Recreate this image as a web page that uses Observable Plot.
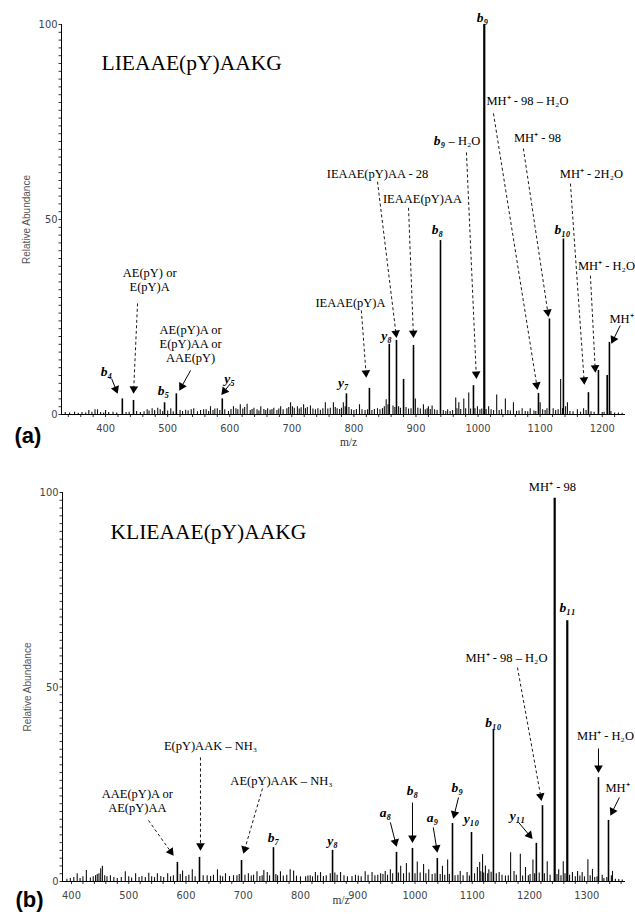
<!DOCTYPE html>
<html><head><meta charset="utf-8">
<script src="https://cdn.jsdelivr.net/npm/d3@7"></script>
<script src="https://cdn.jsdelivr.net/npm/@observablehq/plot@0.6"></script>
<style>
body{margin:0;background:#fff;width:635px;height:914px;overflow:hidden}
#chart svg{display:block;overflow:visible}
</style></head>
<body><div id="chart"></div>
<script>
// ---------- DATA ----------
const titleA = "LIEAAE(pY)AAKG";
const titleB = "KLIEAAE(pY)AAKG";
const panelTagA = "(a)";
const panelTagB = "(b)";
const yLabel = "Relative Abundance";
const xLabel = "m/z";
const yTickLabels = [0, 50, 100];
const xTickLabelsA = [400, 500, 600, 700, 800, 900, 1000, 1100, 1200];
const xTickLabelsB = [400, 500, 600, 700, 800, 900, 1000, 1100, 1200, 1300];

// panel (a) peaks [m/z, relative abundance]
const peaksA = [[427,4],[445,3.6],[495,3],[514,5.3],[588,4],[788,5.3],[825,6.7],[857,18],[868.6,19],[880,9],
  [896,17.7],[939.5,44.6],[992.6,7.4],[1097.3,5.4],[1115,24.5],[1137.5,45],[1177.8,5.6],
  [1193.9,11.3],[1208,10],[1211.6,18.5]];
const basePeakA = [[1010,100]];
const noiseA = [[373,1],[387,1.2],[400,1],[467,1.2],[475,1.5],[484,1.6],[505,1.5],[529,1.1],[542,1.5],[558,1.2],
  [569,2],[580,1.5],[606,2],[617,2.5],[628,2.6],[639,1.6],[650,2],[661,1.5],[671,1.6],[682,2],[698,3],[709,2],
  [719,2.5],[730,2.2],[754,3],[767,3],[783,3],[809,2.5],[838,1.5],[852,3.8],[899,4],[912,2.5],[920,2],[926,2.2],
  [951,1.2],[964,4.2],[969,3],[977,4],[985,5.5],[999,2],[1017,2],[1030,5],[1044,4],[1057,3],[1071,1.5],[1084,1.5],
  [1100,3],[1121,1.5],[1133,9],[1144,3],[1160,1.2],[1170,1.5]];
const grassA = [[335,0.5],[342,0.4],[350,0.6],[356,0.3],[362,0.5],[368,0.4],[378,0.6],[383,1.2],[392,0.5],[397,0.4],
  [405,0.5],[412,0.6],[418,0.4],[433,0.5],[438,0.6],[450,0.8],[456,0.5],[462,0.7],[470,0.9],[479,1],[488,1.2],[492,0.8],
  [500,0.9],[509,0.7],[520,1],[524,0.8],[533,0.9],[538,1.2],[548,0.7],[553,1],[562,1.2],[566,0.8],[573,1],[576,1.4],
  [584,1],[592,1.2],[598,0.8],[602,1.3],[610,1.5],[613,1.2],[621,1.4],[624,1.8],[633,1],[636,1.3],[644,1.2],[647,0.9],
  [655,1.3],[658,1],[665,1.1],[668,1.3],[676,1],[679,1.4],[686,1.2],[692,1.5],[695,1.8],[701,2],[704,1.6],[712,1.4],
  [715,1.7],[722,1.5],[725,1.8],[734,1.4],[738,1.2],[742,1.5],[746,1.1],[750,1.5],[758,1.4],[762,1.6],[770,1.8],
  [773,1.5],[777,1.3],[780,1.6],[786,2],[792,1.8],[796,1.2],[800,1],[804,1.3],[813,1.2],[818,1],[822,1.2],[829,1],
  [833,1.3],[842,1.2],[846,1.5],[849,2],[855,2.5],[863,2.2],[866,1.8],[872,2],[875,1.6],[884,1.8],[888,1.4],[892,1.5],
  [903,1.6],[907,1.4],[915,1.2],[918,1.5],[923,1.3],[930,1.2],[934,1],[944,1],[948,0.8],[955,0.8],[959,1],[966,1.5],
  [972,1.3],[980,1.5],[988,1.4],[995,1.5],[1003,1.2],[1006,1.4],[1013,1.3],[1021,1.2],[1025,1],[1034,1],[1038,1.2],
  [1048,1],[1052,0.9],[1062,0.8],[1066,0.9],[1076,0.8],[1080,0.7],[1090,0.9],[1093,0.8],[1104,1.2],[1108,1],[1111,1.5],
  [1125,1],[1129,1.2],[1136,1.5],[1141,2],[1148,0.8],[1153,0.7],[1165,0.6],[1174,1],[1182,0.7],[1187,0.6],[1200,0.5],
  [1203,0.6],[1214,0.8],[1220,0.4],[1226,0.4],[1232,0.3]];

// panel (a) annotations [text, m/z, abundance]
const ionLabelsA = [["b₉",1007,101.8],["b₈",934.6,47.4],["b₁₀",1136,47.4],["y₈",852.5,20.3],["y₇",783,8.2],
  ["b₄",401.6,11],["b₅",493.4,6.2],["y₅",599.7,9.2],["b₉",937.8,70.3]];
const fragLabelsA = [["MH⁺ - 98 – H₂O",1079.6,80.5],["MH⁺ - 98",1095.6,71],["– H₂O",978,70.3],
  ["IEAAE(pY)AA - 28",838,61.8],["MH⁺ - 2H₂O",1182.6,61.8],["IEAAE(pY)AA",910.5,55.4],["MH⁺ - H₂O",1206.8,38.2],
  ["IEAAE(pY)A",794.5,28.7],["MH⁺",1231,24.6],["AE(pY) or\nE(pY)A",471,34.7],["AE(pY)A or\nE(pY)AA or\nAAE(pY)",537,18.2]];
// arrows [from m/z, from abundance, to m/z, to abundance]
const dashedArrowsA = [[451.5,28.5,445,5.4],[812,26.7,820,9.5],[838,59.7,868.6,19.7],[888,53,896,19.7],
  [981.3,67.2,997.4,9.2],[1024.8,77.2,1095.7,6.4],[1073,68.2,1113.4,25.1],[1148.8,59.2,1171.3,7.7],[1181,35.6,1189,10.8]];
const solidArrowsA = [[537,11.3,519,6.2],[409.7,9.2,419.3,5.4],[601,7.9,586.8,5.1],[1229,22.8,1214.8,18.2]];

// panel (b) peaks
const peaksB = [[585,4.9],[623.6,6.2],[697,5.4],[752.8,8.7],[856,8],[967.7,7.5],[995.6,8.5],[1039,5.9],[1065.5,14.9],
  [1098.7,12.6],[1137,39],[1212,9.8],[1222.7,19.5],[1320.5,26.7],[1338,15.7]];
const basePeakB = [[1244,98.5],[1266,67]];
const noiseB = [[410,2],[426,2.8],[445,1.8],[451,3.3],[454,3.9],[468,1.5],[494,2.5],[512,2],[535,2.1],[550,2],[568,2],
  [594,2.7],[611,3],[637,1.5],[655,3],[669,2],[683,1.5],[709,2],[724,2.5],[736,2.8],[742,2.3],[765,2.5],[782,3],[788,2.7],
  [800,1.2],[817,1.5],[826,2.3],[835,2.3],[870,2.3],[896,1.6],[913,2.5],[925,2.3],[940,2],[948,2.6],[957,3],[975,3.9],
  [985,4.6],[1004,5],[1015,4.4],[1024,3],[1048,3.9],[1057,5.5],[1079,2.6],[1091,2.3],[1109,3.6],[1113,4.9],[1118,6.9],
  [1123,4],[1129,3],[1147,2.3],[1167,7.4],[1173,2.6],[1184,7],[1193,3.6],[1206,5.5],[1231,5.1],[1251,3],[1259,5.1],
  [1275,2.3],[1284,2.6],[1292,2.3],[1302,5.6],[1310,3.1],[1327,1.6],[1345,2.6]];
const grassB = [[392,0.6],[398,0.8],[404,1],[415,0.8],[420,1.2],[433,0.9],[438,1.2],[442,1.5],[448,2],[458,1.5],[462,1.2],
  [474,1],[480,0.8],[487,1],[500,1.2],[505,0.9],[518,1],[523,1.3],[529,1],[540,1.2],[545,1],[556,1.3],[561,1],[573,1.2],
  [578,1.5],[590,1.8],[600,1.3],[605,1.6],[616,1.2],[630,1.5],[643,1.3],[648,1.6],[660,1.4],[664,1.2],[676,1.3],[689,1.5],
  [693,1.8],[703,1.6],[714,1.4],[718,1.6],[729,1.3],[733,1.5],[746,1.5],[757,1.8],[760,1.5],[770,1.4],[776,1.6],[793,1.4],
  [809,1.2],[813,1.4],[821,1.2],[830,1.5],[840,1.3],[845,1.5],[852,2],[860,2.2],[864,1.6],[876,1.5],[882,1.2],[890,1.3],
  [901,1.4],[906,1.2],[918,1.6],[930,1.5],[935,1.6],[944,1.8],[952,1.6],[961,2],[971,2.2],[980,2],[990,2.2],[1000,2],
  [1009,2.2],[1019,2],[1030,1.8],[1035,2],[1044,1.8],[1052,1.6],[1060,1.8],[1070,1.5],[1075,1.6],[1084,1.5],[1095,1.4],
  [1104,2],[1115,2.5],[1120,2.2],[1127,2],[1133,2.4],[1142,2],[1152,1.6],[1158,1.4],[1163,1.5],[1177,1.6],[1188,1.4],
  [1198,1.5],[1201,1.8],[1209,2],[1217,2.2],[1226,2],[1236,1.6],[1248,1.8],[1255,1.5],[1262,2],[1270,1.6],[1280,1.2],
  [1288,1.4],[1296,1.2],[1306,1.5],[1314,1],[1318,1.2],[1330,0.8],[1335,1],[1343,1.5],[1350,0.6],[1356,0.5],[1362,0.4]];

const ionLabelsB = [["b₁₁",1266.4,70.4],["b₁₀",1137,40.9],["y₁₁",1179,17],["b₉",1074,24.2],["y₁₀",1098.7,16.2],
  ["b₈",995.6,23.4],["a₈",948.5,17.7],["a₉",1030.6,16.5],["y₈",856,10.5],["b₇",752.8,11.3]];
const fragLabelsB = [["MH⁺ - 98",1240,101.5],["MH⁺ - 98 – H₂O",1159.8,57.6],["MH⁺ - H₂O",1332.8,37.5],["MH⁺",1353.7,24.2],
  ["E(pY)AAK – NH₃",642.8,35],["AE(pY)AAK – NH₃",766.8,26],["AAE(pY)A or\nAE(pY)AA",515,20.7]];
const dashedArrowsB = [[1179,55,1221,20.8],[625.3,31.9,625.3,8],[733.6,23.9,700.4,7.2],[534.5,15.7,578,6.7]];
const solidArrowsB = [[1320.5,34.2,1320.5,28],[1357,21.6,1341.5,17],[1180.8,15.2,1205,11],[1076,21.6,1067,16.2],
  [995.6,20.3,995.6,10],[957,15.2,967.7,9],[1032,13.9,1039,7.5]];

// ---------- RENDER ----------
const serif = "'Liberation Serif','Times New Roman',serif";
const sans = "'Liberation Sans',Arial,sans-serif";
const narrow = "'Liberation Sans Narrow','DejaVu Sans Condensed','Arial Narrow',sans-serif";

function panel(cfg) {
  const W = 635, mr = 10;
  const xs = d3.scaleLinear(cfg.xDom, [cfg.ml, W - mr]);
  const ys = d3.scaleLinear([0, 100], [cfg.height - cfg.mb, cfg.mt]);
  const pk = a => a.map(([mz, pct]) => ({mz, pct}));
  const lab = a => a.map(([t, mz, pct]) => ({t, mz, pct}));
  const geo = a => a.map(([x1, y1, x2, y2]) => {
    const dx = xs(x2) - xs(x1), dy = ys(y2) - ys(y1), L = Math.hypot(dx, dy);
    const hx = xs(x2) - dx / L * 4.6, hy = ys(y2) - dy / L * 4.6;
    return {x1, y1, x2: xs.invert(hx), y2: ys.invert(hy), rot: Math.atan2(dx, -dy) * 180 / Math.PI};
  });
  const dashed = geo(cfg.dashed), solid = geo(cfg.solid);
  const minorX = d3.range(Math.ceil(cfg.xDom[0] / 20) * 20, cfg.xDom[1], 20);
  const fmt = d3.format("d");
  const svg = Plot.plot({
    width: W, height: cfg.height,
    marginLeft: cfg.ml, marginRight: mr, marginTop: cfg.mt, marginBottom: cfg.mb,
    x: {domain: cfg.xDom, axis: null},
    y: {domain: [0, 100], axis: null},
    style: {background: "white", overflow: "visible"},
    marks: [
      Plot.ruleX(pk(cfg.grass), {x: "mz", y1: 0, y2: "pct", stroke: "#111", strokeWidth: 1.1}),
      Plot.ruleX(pk(cfg.noise), {x: "mz", y1: 0, y2: "pct", stroke: "#111", strokeWidth: 1.1}),
      Plot.ruleX(pk(cfg.peaks), {x: "mz", y1: 0, y2: "pct", stroke: "#000", strokeWidth: 1.6}),
      Plot.ruleX(pk(cfg.base), {x: "mz", y1: 0, y2: "pct", stroke: "#000", strokeWidth: 2.2}),
      Plot.ruleX([cfg.xDom[0]], {y1: 0, y2: 100, stroke: "#000", strokeWidth: 1}),
      Plot.ruleY([0], {stroke: "#000", strokeWidth: 1.2}),
      Plot.axisY(d3.range(0, 101, 2), {anchor: "left", tickSize: 2.5, tickFormat: () => "", label: null, strokeWidth: 0.8}),
      Plot.axisY(yTickLabels, {anchor: "left", tickSize: 0, tickPadding: 4, tickFormat: fmt, label: null, color: "#444", fontSize: 11, fontFamily: narrow}),
      Plot.axisX(minorX, {anchor: "bottom", tickSize: 3, tickFormat: () => "", label: null, strokeWidth: 0.8}),
      Plot.axisX(cfg.xTicks, {anchor: "bottom", tickSize: 0, tickPadding: 10, tickFormat: fmt, label: null, color: "#444", fontSize: 11, fontFamily: narrow}),
      Plot.link(dashed, {x1: "x1", y1: "y1", x2: "x2", y2: "y2", stroke: "#000", strokeWidth: 0.9, strokeDasharray: "3,2.5"}),
      Plot.link(solid, {x1: "x1", y1: "y1", x2: "x2", y2: "y2", stroke: "#000", strokeWidth: 1}),
      Plot.dot(dashed.concat(solid), {x: "x2", y: "y2", rotate: "rot", symbol: "triangle", r: 3.2, fill: "#000"}),
      Plot.text(lab(cfg.frag), {x: "mz", y: "pct", text: "t", fontFamily: serif, fontSize: 12.5, lineHeight: 1.12, fill: "#000"}),
      Plot.text(lab(cfg.ions), {x: "mz", y: "pct", text: "t", fontFamily: serif, fontSize: 13.5, fontStyle: "italic", fontWeight: "bold", fill: "#000"}),
      Plot.text([cfg.title], {frameAnchor: "top-left", textAnchor: "start", lineAnchor: "middle", dx: cfg.titleDx, dy: cfg.titleDy, fontFamily: serif, fontSize: 21.5, fill: "#000"}),
      Plot.text([yLabel], {frameAnchor: "left", textAnchor: "middle", lineAnchor: "middle", rotate: -90, dx: -35, fontFamily: sans, fontSize: 10, fill: "#555"}),
      Plot.text([xLabel], {frameAnchor: "bottom", dx: cfg.xlDx, dy: cfg.xlDy, fontFamily: serif, fontSize: 11.5, fill: "#333"}),
      Plot.text([cfg.tag], {frameAnchor: "bottom-left", textAnchor: "start", lineAnchor: "bottom", dx: -47, dy: cfg.tagDy, fontFamily: sans, fontWeight: "bold", fontSize: 22, fill: "#000"})
    ]
  });
  // drop the empty label texts produced by the minor-tick axes
  svg.querySelectorAll("text").forEach(t => { if (!t.textContent.trim()) t.remove(); });
  return svg;
}

const root = document.getElementById("chart");
root.appendChild(panel({
  height: 460, mt: 24, mb: 46, ml: 61, xDom: [329, 1237.5], xTicks: xTickLabelsA,
  peaks: peaksA, base: basePeakA, noise: noiseA, grass: grassA, ions: ionLabelsA, frag: fragLabelsA,
  dashed: dashedArrowsA, solid: solidArrowsA, title: titleA, titleDx: 40, titleDy: 39,
  tag: panelTagA, tagDy: 28, xlDx: 5, xlDy: 31
}));
root.appendChild(panel({
  height: 454, mt: 32, mb: 33, ml: 62, xDom: [384.3, 1367.7], xTicks: xTickLabelsB,
  peaks: peaksB, base: basePeakB, noise: noiseB, grass: grassB, ions: ionLabelsB, frag: fragLabelsB,
  dashed: dashedArrowsB, solid: solidArrowsB, title: titleB, titleDx: 48, titleDy: 40,
  tag: panelTagB, tagDy: 25, xlDx: -3, xlDy: 22
}));
</script></body></html>
